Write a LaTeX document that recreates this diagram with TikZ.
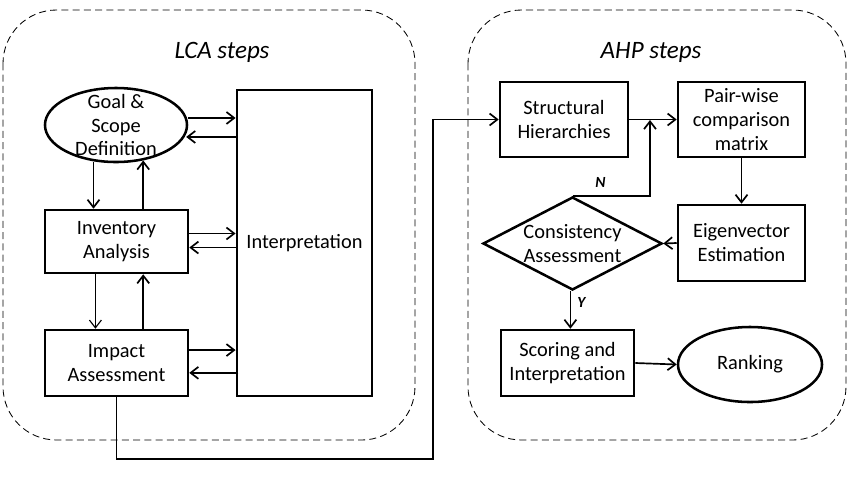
\documentclass[tikz,border=0pt]{standalone}
\usepackage{fontspec}
\setmainfont{Carlito}
\usetikzlibrary{shapes.geometric,arrows.meta}

\begin{document}
\begin{tikzpicture}[x=0.025cm,y=-0.025cm]
            \tikzset{panel/.style={draw, dash pattern=on 5pt off 3pt, line width=0.6pt, rounded corners=38pt},
                     txt/.style={align=center, font=\fontsize{14.5}{17}\selectfont},
                     stepbox/.style={txt, draw, line width=1.8pt, inner sep=0pt},
                     oval/.style={draw, ellipse, line width=1.8pt, inner sep=0pt},
                     check/.style={draw, diamond, line width=1.8pt, inner sep=0pt},
                     arr/.style={-{Straight Barb[length=5.5pt,width=8.5pt]}, line width=1.2pt},
                     title/.style={font=\fontsize{17.8}{21}\selectfont\itshape},
                     yn/.style={font=\fontsize{11}{13}\selectfont\bfseries\itshape}}

            \useasboundingbox (0,0) rectangle (854,476);

            % the two groups
            \draw[panel] (3,10) rectangle (415,440);
            \draw[panel] (468,10) rectangle (846,440);
            \node[title] (lcatitle) at (222,52) {LCA steps};
            \node[title] (ahptitle) at (651,52) {AHP steps};

            % LCA steps
            \node[oval, minimum width=3.55cm, minimum height=1.85cm,
                  label={[txt]center:Goal \&\\Scope\\Definition}] (goal) at (116,125) {};
            \node[stepbox, minimum width=3.575cm, minimum height=1.575cm] (inv) at (116.5,241.5) {Inventory\\Analysis};
            \node[stepbox, minimum width=3.575cm, minimum height=1.65cm] (impact) at (116.5,363) {Impact\\Assessment};
            \node[stepbox, line width=2pt, minimum width=3.375cm, minimum height=7.65cm] (interp) at (304.5,243) {Interpretation};

            \draw[arr] ([yshift=5pt]goal.east) -- ([yshift=5pt]goal.east -| interp.west);
            \draw[arr] ([yshift=-8.5pt]goal.east -| interp.west) -- ([xshift=-1.5pt,yshift=-8.5pt]goal.east);
            \draw[arr] ([xshift=-16pt,yshift=1pt]goal.south) -- ([xshift=-16pt]goal.south |- inv.north);
            \draw[arr] ([xshift=19pt]inv.north) -- ([xshift=19pt,yshift=2pt]inv.north |- goal.south);
            \draw[arr] ([yshift=5.7pt]inv.east) -- ([yshift=5.7pt]inv.east -| interp.west);
            \draw[arr] ([yshift=-4.3pt]inv.east -| interp.west) -- ([yshift=-4.3pt]inv.east);
            \draw[arr, line width=0.8pt] ([xshift=-15pt]inv.south) -- ([xshift=-15pt]impact.north);
            \draw[arr] ([xshift=19pt]impact.north) -- ([xshift=19pt]inv.south);
            \draw[arr] ([yshift=9.2pt]impact.east) -- ([yshift=9.2pt]impact.east -| interp.west);
            \draw[arr] ([xshift=2pt,yshift=-7pt]impact.east -| interp.west) -- ([yshift=-7pt]impact.east);

            % AHP steps
            \node[stepbox, minimum width=3.2cm, minimum height=1.875cm] (struct) at (564,119.5) {Structural\\Hierarchies};
            \node[stepbox, minimum width=3.175cm, minimum height=1.875cm] (pair) at (741.5,119.5) {Pair-wise\\comparison\\matrix};
            \node[stepbox, minimum width=3.175cm, minimum height=1.9cm] (eigen) at (741.5,243) {Eigenvector\\Estimation};
            \node[check, minimum width=4.475cm, minimum height=2.325cm,
                  label={[txt]center:Consistency\\Assessment}] (cons) at (572.5,243.5) {};
            \node[stepbox, minimum width=3.325cm, minimum height=1.65cm] (score) at (567.5,363) {Scoring and\\Interpretation};
            \node[oval, txt, minimum width=3.6cm, minimum height=1.875cm] (rank) at (750,364.5) {Ranking};
            \coordinate (njoin) at (650,120);
            \coordinate (turn) at (433,459);

            \draw[arr] (struct.east) -- (pair.west);
            \draw[arr] (cons.north) -| node[yn, pos=0.18, above=2pt] {N} (njoin);
            \draw[arr] (pair.south) -- (eigen.north);
            \draw[arr] (eigen.west) -- (cons.east);
            \draw[arr] ([xshift=-1.5pt]cons.south) -- node[yn, right=1pt, pos=0.3] {Y} ([xshift=-1.5pt]cons.south |- score.north);
            \draw[arr] (score.east) -- (rank.west);

            % LCA result feeds the AHP
            \draw[arr] (impact.south) |- (turn) |- (struct.west);
        \end{tikzpicture}
\end{document}
